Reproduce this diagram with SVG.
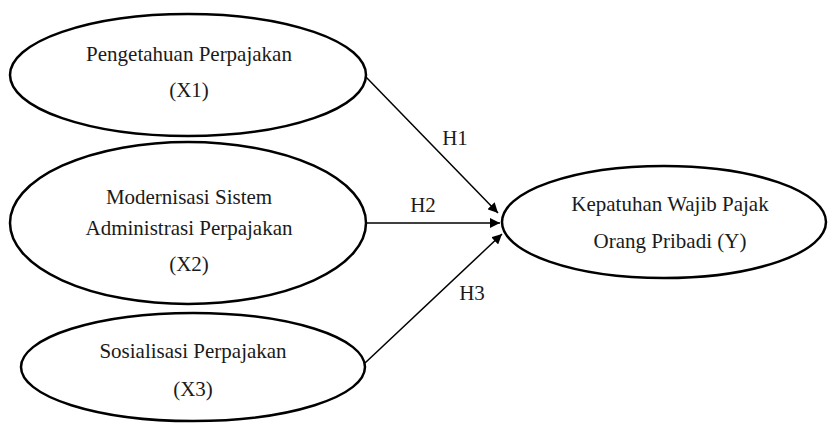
<svg xmlns="http://www.w3.org/2000/svg" width="829" height="423" viewBox="0 0 829 423">
<style>
.node ellipse{fill:#fff;stroke:#000;stroke-width:2.5}
.t{font-size:21px;fill:#1a1a1a;text-anchor:middle}
.edge{stroke:#000;stroke-width:1.5;fill:none;marker-end:url(#arr)}
</style>
<defs>
<marker id="arr" viewBox="0 0 10 10" refX="10" refY="5" markerWidth="10" markerHeight="10" markerUnits="userSpaceOnUse" orient="auto">
<path d="M0,0 L10,5 L0,10 Z" fill="#000"/>
</marker>
</defs>
<rect width="829" height="423" fill="#fff"/>
<g font-family="Liberation Serif, DejaVu Serif, serif">
<g id="x1" class="node">
<ellipse cx="188" cy="75" rx="178" ry="61"/>
<text class="t" x="189" y="61">Pengetahuan Perpajakan</text>
<text class="t" x="189" y="97">(X1)</text>
</g>
<g id="x2" class="node">
<ellipse cx="188" cy="223" rx="178" ry="81"/>
<text class="t" x="189" y="204">Modernisasi Sistem</text>
<text class="t" x="189" y="235">Administrasi Perpajakan</text>
<text class="t" x="189" y="271">(X2)</text>
</g>
<g id="x3" class="node">
<ellipse cx="193" cy="367" rx="172" ry="54"/>
<text class="t" x="193" y="358">Sosialisasi Perpajakan</text>
<text class="t" x="193" y="396">(X3)</text>
</g>
<g id="y" class="node">
<ellipse cx="664" cy="222" rx="162" ry="56"/>
<text class="t" x="670" y="211">Kepatuhan Wajib Pajak</text>
<text class="t" x="670" y="248">Orang Pribadi (Y)</text>
</g>
<g id="connectors">
<line class="edge" x1="366" y1="77" x2="498" y2="213"/>
<line class="edge" x1="366" y1="223" x2="500" y2="223"/>
<line class="edge" x1="365" y1="363" x2="502" y2="234"/>
<text class="t" x="455" y="145">H1</text>
<text class="t" x="423" y="212">H2</text>
<text class="t" x="472" y="300">H3</text>
</g>
</g>
</svg>
